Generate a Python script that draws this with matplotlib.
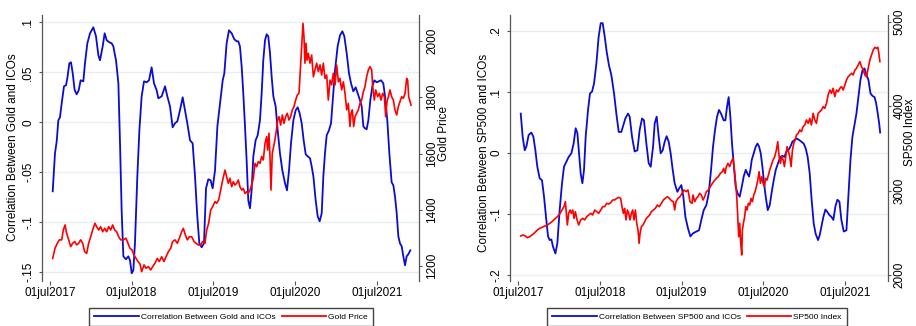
import numpy as np
import pandas as pd
import matplotlib
matplotlib.use('Agg')
import matplotlib.pyplot as plt
from matplotlib.lines import Line2D

plt.rcParams['font.family'] = ['Liberation Sans', 'DejaVu Sans']

# ---------------- data (x = years since 01jul2017) ----------------
gold_corr_t = [0.033, 0.061, 0.082, 0.102, 0.122, 0.143, 0.171, 0.196, 0.212, 0.237, 0.257, 0.278,
               0.302, 0.327, 0.351, 0.375, 0.408, 0.428, 0.457, 0.490, 0.530, 0.563, 0.592, 0.612,
               0.645, 0.669, 0.694, 0.726, 0.755, 0.775, 0.808, 0.837, 0.857, 0.877, 0.898, 0.930,
               0.959, 0.979, 1.000, 1.020, 1.040, 1.069, 1.094, 1.122, 1.151, 1.183, 1.212, 1.244,
               1.273, 1.306, 1.326, 1.367, 1.408, 1.436, 1.469, 1.501, 1.530, 1.559, 1.591, 1.624,
               1.652, 1.681, 1.714, 1.746, 1.775, 1.803, 1.828, 1.856, 1.885, 1.910, 1.938, 1.966,
               1.991, 2.020, 2.049, 2.081, 2.114, 2.134, 2.162, 2.191, 2.224, 2.256, 2.285, 2.305,
               2.325, 2.346, 2.366, 2.387, 2.407, 2.427, 2.448, 2.468, 2.489, 2.517, 2.542, 2.570,
               2.591, 2.611, 2.632, 2.652, 2.672, 2.693, 2.713, 2.734, 2.762, 2.787, 2.815, 2.844,
               2.877, 2.901, 2.926, 2.950, 2.979, 3.007, 3.032, 3.056, 3.081, 3.105, 3.130, 3.154,
               3.183, 3.203, 3.224, 3.252, 3.277, 3.301, 3.326, 3.346, 3.366, 3.387, 3.415, 3.440,
               3.468, 3.489, 3.521, 3.550, 3.579, 3.603, 3.632, 3.660, 3.685, 3.713, 3.742, 3.766,
               3.795, 3.815, 3.836, 3.856, 3.876, 3.897, 3.921, 3.946, 3.970, 3.999, 4.027, 4.052,
               4.080, 4.101, 4.129, 4.154, 4.182, 4.203, 4.223, 4.244, 4.264, 4.284, 4.305, 4.325,
               4.346, 4.366, 4.386, 4.411]
gold_corr = [-0.069, -0.031, -0.019, 0.002, 0.005, 0.019, 0.036, 0.037, 0.044, 0.059, 0.060, 0.049,
             0.032, 0.028, 0.032, 0.042, 0.041, 0.059, 0.079, 0.089, 0.095, 0.086, 0.067, 0.062,
             0.076, 0.089, 0.082, 0.080, 0.079, 0.076, 0.062, 0.039, -0.021, -0.088, -0.134, -0.137,
             -0.134, -0.138, -0.151, -0.148, -0.121, -0.054, -0.008, 0.026, 0.041, 0.040, 0.042, 0.055,
             0.039, 0.032, 0.024, 0.026, 0.036, 0.026, 0.016, -0.005, -0.001, 0.001, 0.012, 0.025,
             0.012, -0.001, -0.018, -0.021, -0.054, -0.094, -0.121, -0.125, -0.121, -0.066, -0.057, -0.058,
             -0.066, -0.048, -0.004, 0.019, 0.042, 0.049, 0.079, 0.092, 0.089, 0.083, 0.081, 0.081,
             0.076, 0.056, 0.029, -0.004, -0.038, -0.078, -0.086, -0.068, -0.034, -0.018, -0.013, 0.002,
             0.029, 0.062, 0.082, 0.088, 0.086, 0.069, 0.046, 0.026, 0.016, -0.008, -0.031, -0.048,
             -0.061, -0.068, -0.048, -0.021, 0.002, 0.012, 0.015, 0.009, -0.001, -0.018, -0.032, -0.034,
             -0.036, -0.044, -0.054, -0.078, -0.094, -0.099, -0.091, -0.054, -0.031, -0.013, -0.008, -0.001,
             0.029, 0.052, 0.076, 0.087, 0.091, 0.086, 0.069, 0.049, 0.039, 0.031, 0.035, 0.029,
             0.022, 0.016, -0.004, -0.006, -0.007, 0.002, 0.022, 0.036, 0.042, 0.040, 0.041, 0.042,
             0.039, 0.026, 0.002, -0.031, -0.060, -0.063, -0.074, -0.091, -0.114, -0.121, -0.124, -0.134,
             -0.143, -0.134, -0.132, -0.128]

gold_price_t = [0.033, 0.061, 0.090, 0.114, 0.143, 0.163, 0.184, 0.204, 0.229, 0.253, 0.278, 0.302,
                0.327, 0.351, 0.375, 0.400, 0.424, 0.449, 0.473, 0.498, 0.522, 0.551, 0.571, 0.596,
                0.620, 0.645, 0.669, 0.694, 0.718, 0.743, 0.767, 0.792, 0.816, 0.841, 0.865, 0.898,
                0.930, 0.955, 0.979, 1.004, 1.028, 1.053, 1.077, 1.102, 1.122, 1.151, 1.175, 1.204,
                1.232, 1.257, 1.285, 1.314, 1.338, 1.367, 1.395, 1.420, 1.449, 1.477, 1.501, 1.530,
                1.559, 1.583, 1.612, 1.632, 1.657, 1.681, 1.706, 1.734, 1.763, 1.787, 1.816, 1.844,
                1.869, 1.897, 1.918, 1.942, 1.967, 1.991, 2.020, 2.040, 2.065, 2.089, 2.114, 2.142,
                2.162, 2.183, 2.203, 2.224, 2.244, 2.264, 2.285, 2.305, 2.325, 2.346, 2.366, 2.387,
                2.407, 2.427, 2.448, 2.468, 2.489, 2.509, 2.530, 2.550, 2.570, 2.591, 2.611, 2.632,
                2.652, 2.664, 2.680, 2.693, 2.705, 2.721, 2.746, 2.766, 2.787, 2.803, 2.823, 2.844,
                2.864, 2.884, 2.905, 2.925, 2.946, 2.966, 2.987, 3.007, 3.027, 3.048, 3.064, 3.081,
                3.097, 3.109, 3.121, 3.134, 3.146, 3.162, 3.183, 3.203, 3.224, 3.244, 3.264, 3.285,
                3.305, 3.326, 3.346, 3.366, 3.387, 3.407, 3.428, 3.448, 3.468, 3.489, 3.509, 3.530,
                3.550, 3.570, 3.591, 3.611, 3.632, 3.652, 3.672, 3.685, 3.701, 3.717, 3.734, 3.754,
                3.774, 3.795, 3.815, 3.836, 3.856, 3.876, 3.897, 3.917, 3.938, 3.950, 3.970, 3.987,
                4.011, 4.032, 4.052, 4.072, 4.093, 4.109, 4.125, 4.142, 4.162, 4.182, 4.203, 4.223,
                4.244, 4.264, 4.284, 4.305, 4.325, 4.346, 4.366, 4.378, 4.391, 4.407, 4.419]
gold_price = [1227, 1263, 1281, 1293, 1293, 1328, 1346, 1316, 1293, 1269, 1281, 1287,
              1275, 1281, 1293, 1281, 1251, 1245, 1281, 1304, 1328, 1352, 1340, 1328,
              1340, 1322, 1334, 1322, 1340, 1328, 1346, 1328, 1322, 1304, 1293, 1293,
              1299, 1281, 1263, 1257, 1239, 1227, 1216, 1207, 1180, 1204, 1192, 1198,
              1186, 1198, 1210, 1227, 1216, 1233, 1216, 1233, 1251, 1263, 1287, 1293,
              1281, 1299, 1322, 1334, 1310, 1293, 1304, 1304, 1287, 1281, 1275, 1275,
              1287, 1281, 1328, 1352, 1399, 1411, 1429, 1423, 1435, 1470, 1506, 1541,
              1518, 1494, 1512, 1482, 1500, 1488, 1494, 1506, 1482, 1470, 1476, 1458,
              1464, 1458, 1470, 1488, 1512, 1565, 1553, 1571, 1565, 1589, 1577, 1636,
              1660, 1612, 1672, 1589, 1470, 1601, 1636, 1672, 1719, 1731, 1701, 1737,
              1707, 1731, 1743, 1719, 1731, 1755, 1767, 1790, 1808, 1814, 1897, 1980,
              2063, 2015, 1921, 1992, 1932, 1956, 1921, 1950, 1873, 1897, 1921, 1891,
              1915, 1879, 1921, 1867, 1879, 1790, 1861, 1844, 1885, 1844, 1915, 1855,
              1867, 1826, 1855, 1814, 1755, 1778, 1696, 1743, 1755, 1696, 1731, 1743,
              1755, 1778, 1790, 1820, 1838, 1873, 1897, 1909, 1897, 1838, 1790, 1826,
              1802, 1814, 1790, 1814, 1802, 1731, 1784, 1802, 1826, 1802, 1790, 1755,
              1737, 1767, 1784, 1802, 1796, 1814, 1867, 1861, 1802, 1784, 1772]

sp_corr_t = [0.033, 0.057, 0.082, 0.102, 0.130, 0.163, 0.188, 0.212, 0.236, 0.265, 0.293, 0.318,
             0.342, 0.367, 0.387, 0.408, 0.428, 0.457, 0.481, 0.509, 0.538, 0.562, 0.591, 0.619,
             0.652, 0.680, 0.705, 0.726, 0.746, 0.766, 0.787, 0.807, 0.827, 0.856, 0.880, 0.905,
             0.929, 0.958, 0.986, 1.011, 1.035, 1.060, 1.084, 1.112, 1.141, 1.174, 1.202, 1.231,
             1.263, 1.288, 1.312, 1.345, 1.365, 1.394, 1.426, 1.459, 1.487, 1.516, 1.540, 1.569,
             1.597, 1.622, 1.651, 1.671, 1.695, 1.720, 1.744, 1.769, 1.793, 1.817, 1.842, 1.866,
             1.891, 1.915, 1.948, 1.972, 1.997, 2.021, 2.046, 2.078, 2.107, 2.139, 2.180, 2.213,
             2.241, 2.270, 2.302, 2.331, 2.360, 2.384, 2.408, 2.433, 2.457, 2.482, 2.514, 2.535,
             2.555, 2.575, 2.596, 2.616, 2.637, 2.661, 2.686, 2.710, 2.735, 2.759, 2.784, 2.804,
             2.824, 2.841, 2.857, 2.882, 2.906, 2.927, 2.947, 2.967, 2.988, 3.008, 3.028, 3.053,
             3.077, 3.102, 3.126, 3.151, 3.179, 3.207, 3.232, 3.256, 3.281, 3.305, 3.330, 3.354,
             3.382, 3.411, 3.435, 3.464, 3.492, 3.517, 3.541, 3.566, 3.590, 3.615, 3.639, 3.668,
             3.688, 3.709, 3.733, 3.758, 3.782, 3.806, 3.831, 3.855, 3.880, 3.904, 3.929, 3.953,
             3.982, 4.015, 4.039, 4.064, 4.088, 4.113, 4.137, 4.162, 4.186, 4.211, 4.235, 4.260,
             4.284, 4.309, 4.333, 4.358, 4.378, 4.398, 4.415, 4.427]
sp_corr = [0.064, 0.026, 0.004, 0.010, 0.029, 0.033, 0.026, 0.004, -0.023, -0.042, -0.045, -0.072,
           -0.105, -0.137, -0.143, -0.142, -0.154, -0.165, -0.148, -0.094, -0.050, -0.023, -0.015, -0.007,
           -0.001, 0.015, 0.040, 0.032, -0.001, -0.034, -0.050, -0.028, 0.026, 0.070, 0.097, 0.100,
           0.113, 0.146, 0.190, 0.212, 0.212, 0.190, 0.165, 0.143, 0.127, 0.097, 0.064, 0.034,
           0.034, 0.045, 0.056, 0.064, 0.059, 0.026, 0.002, 0.004, 0.037, 0.056, 0.053, 0.015,
           -0.017, -0.023, 0.010, 0.048, 0.059, 0.026, -0.001, 0.004, 0.018, 0.027, 0.018, -0.001,
           -0.028, -0.050, -0.064, -0.058, -0.053, -0.072, -0.105, -0.124, -0.137, -0.132, -0.129, -0.127,
           -0.110, -0.094, -0.086, -0.067, -0.028, 0.010, 0.037, 0.059, 0.070, 0.064, 0.053, 0.053,
           0.075, 0.091, 0.059, 0.015, -0.018, -0.056, -0.067, -0.072, -0.056, -0.039, -0.028, -0.034,
           -0.039, -0.028, -0.012, -0.001, 0.010, 0.015, 0.010, -0.001, -0.023, -0.050, -0.072, -0.094,
           -0.086, -0.064, -0.045, -0.028, -0.017, -0.007, -0.005, -0.007, 0.002, 0.004, 0.010, 0.018,
           0.021, 0.023, 0.021, 0.018, 0.015, 0.007, -0.007, -0.034, -0.078, -0.116, -0.133, -0.143,
           -0.135, -0.121, -0.105, -0.093, -0.097, -0.102, -0.105, -0.110, -0.088, -0.077, -0.080, -0.110,
           -0.129, -0.127, -0.072, -0.012, 0.026, 0.045, 0.064, 0.092, 0.119, 0.135, 0.138, 0.127,
           0.119, 0.097, 0.093, 0.091, 0.081, 0.064, 0.048, 0.033]

sp_index_t = [0.033, 0.061, 0.090, 0.114, 0.143, 0.171, 0.204, 0.236, 0.265, 0.293, 0.326, 0.359,
              0.387, 0.416, 0.448, 0.481, 0.509, 0.538, 0.562, 0.579, 0.591, 0.603, 0.619, 0.636,
              0.652, 0.669, 0.685, 0.701, 0.722, 0.742, 0.766, 0.791, 0.815, 0.840, 0.864, 0.889,
              0.913, 0.938, 0.962, 0.987, 1.011, 1.036, 1.060, 1.084, 1.109, 1.133, 1.158, 1.182,
              1.206, 1.231, 1.255, 1.271, 1.288, 1.304, 1.320, 1.337, 1.353, 1.369, 1.386, 1.402,
              1.418, 1.435, 1.451, 1.467, 1.480, 1.492, 1.508, 1.528, 1.549, 1.569, 1.589, 1.610,
              1.630, 1.654, 1.679, 1.703, 1.728, 1.752, 1.777, 1.801, 1.826, 1.850, 1.875, 1.899,
              1.915, 1.931, 1.956, 1.980, 2.005, 2.029, 2.054, 2.078, 2.102, 2.127, 2.139, 2.160,
              2.180, 2.200, 2.221, 2.241, 2.262, 2.282, 2.302, 2.327, 2.351, 2.376, 2.400, 2.425,
              2.449, 2.474, 2.498, 2.514, 2.531, 2.547, 2.567, 2.588, 2.608, 2.628, 2.645, 2.661,
              2.674, 2.686, 2.698, 2.710, 2.723, 2.735, 2.743, 2.755, 2.771, 2.784, 2.800, 2.816,
              2.833, 2.849, 2.865, 2.882, 2.898, 2.914, 2.931, 2.947, 2.963, 2.980, 2.996, 3.012,
              3.028, 3.045, 3.061, 3.077, 3.098, 3.118, 3.138, 3.159, 3.175, 3.192, 3.208, 3.224,
              3.241, 3.257, 3.273, 3.289, 3.306, 3.322, 3.338, 3.355, 3.371, 3.387, 3.404, 3.424,
              3.445, 3.465, 3.485, 3.506, 3.526, 3.547, 3.567, 3.587, 3.608, 3.628, 3.648, 3.669,
              3.689, 3.710, 3.730, 3.750, 3.771, 3.791, 3.812, 3.832, 3.852, 3.873, 3.893, 3.914,
              3.934, 3.955, 3.975, 3.995, 4.016, 4.036, 4.057, 4.077, 4.097, 4.118, 4.138, 4.158,
              4.179, 4.199, 4.220, 4.240, 4.260, 4.281, 4.301, 4.322, 4.342, 4.363, 4.383, 4.399,
              4.411, 4.424]
sp_index = [2462, 2474, 2462, 2442, 2454, 2474, 2501, 2533, 2553, 2565, 2580, 2592,
            2612, 2632, 2663, 2691, 2723, 2770, 2810, 2869, 2731, 2592, 2731, 2770,
            2731, 2770, 2671, 2750, 2652, 2592, 2652, 2671, 2652, 2691, 2711, 2731,
            2711, 2770, 2750, 2731, 2770, 2810, 2810, 2849, 2841, 2857, 2889, 2889,
            2908, 2920, 2908, 2810, 2731, 2790, 2652, 2770, 2731, 2652, 2731, 2770,
            2652, 2770, 2612, 2533, 2375, 2494, 2573, 2592, 2632, 2671, 2691, 2711,
            2750, 2770, 2790, 2829, 2810, 2849, 2889, 2908, 2928, 2908, 2881, 2869,
            2770, 2869, 2908, 2928, 2968, 3007, 2987, 3007, 2869, 2849, 2948, 2869,
            2908, 2928, 2968, 2948, 2889, 2928, 2987, 3007, 3047, 3086, 3118, 3145,
            3165, 3205, 3224, 3264, 3205, 3284, 3323, 3284, 3343, 3382, 3244, 3086,
            2928, 2691, 2454, 2612, 2375, 2237, 2533, 2612, 2691, 2810, 2770, 2849,
            2829, 2908, 2869, 2948, 2987, 3047, 3125, 3224, 3086, 3165, 3086, 3047,
            3145, 3125, 3185, 3244, 3303, 3363, 3402, 3481, 3580, 3402, 3323, 3402,
            3363, 3284, 3402, 3521, 3461, 3402, 3284, 3481, 3560, 3600, 3659, 3679,
            3718, 3698, 3758, 3777, 3837, 3797, 3856, 3777, 3916, 3837, 3797, 3916,
            3935, 3955, 3995, 3975, 4034, 4133, 4192, 4153, 4212, 4113, 4192, 4172,
            4212, 4232, 4192, 4251, 4311, 4350, 4370, 4390, 4370, 4429, 4449, 4488,
            4528, 4469, 4429, 4370, 4350, 4449, 4547, 4607, 4666, 4698, 4686, 4698,
            4627, 4528]

tick_dates = ['2017-07-01', '2018-07-01', '2019-07-01', '2020-07-01', '2021-07-01']
tick_labels = ['01jul2017', '01jul2018', '01jul2019', '01jul2020', '01jul2021']

gold_ticks = [1200, 1400, 1600, 1800, 2000]
gold_corr_ticks = [-0.15, -0.1, -0.05, 0, 0.05, 0.1]
gold_corr_labels = ['-.15', '-.1', '-.05', '0', '.05', '.1']
sp_ticks = [2000, 3000, 4000, 5000]
sp_corr_ticks = [-0.2, -0.1, 0, 0.1, 0.2]
sp_corr_labels = ['-.2', '-.1', '0', '.1', '.2']

BASE = pd.Timestamp('2017-07-01')


def to_dates(t):
    return BASE + pd.to_timedelta(np.asarray(t, dtype=float) * 365.25, unit='D')


BLUE = '#0b0bd6'
RED = '#ff0000'
GRID = '#e6eff2'
AX = '#555555'
FS = 8.5
W, H = 916, 326

fig = plt.figure(figsize=(W / 100, H / 100), dpi=100)


def panel(x0, x1, t_c, v_c, t_p, v_p, ylim_l, ylim_r, lt, ll, rt, ylab_l, ylab_r,
          lab_l_pos, lab_r_pos, leg_x, leg_labels, xlim_t, rpad):
    top, bot = 15, 281
    ax = fig.add_axes([x0 / W, 1 - bot / H, (x1 - x0) / W, (bot - top) / H])
    ax2 = ax.twinx()
    ax.plot(to_dates(t_c), v_c, color=BLUE, lw=1.3, solid_joinstyle='round')
    ax2.plot(to_dates(t_p), v_p, color=RED, lw=1.2, solid_joinstyle='round')
    ax.set_xlim(to_dates(xlim_t))
    ax.set_ylim(*ylim_l)
    ax2.set_ylim(*ylim_r)
    ax.set_yticks(lt)
    ax.set_yticklabels(ll)
    ax2.set_yticks(rt)
    ax2.set_yticklabels([str(v) for v in rt])
    ax.set_xticks(pd.to_datetime(tick_dates))
    ax.set_xticklabels(tick_labels)
    ax.grid(axis='y', color=GRID, lw=1.0)
    ax.grid(axis='x', visible=False)
    ax.set_axisbelow(True)
    for a in (ax, ax2):
        a.spines['top'].set_visible(False)
        a.spines['bottom'].set_visible(False)
        for s in ('left', 'right'):
            a.spines[s].set_color(AX)
            a.spines[s].set_linewidth(0.9)
    ax.spines['right'].set_visible(False)
    ax2.spines['left'].set_visible(False)
    ax.tick_params(axis='x', length=3, width=0.8, color=AX, labelsize=FS, pad=1.5)
    ax.tick_params(axis='y', length=2.5, width=0.8, color=AX, labelsize=FS, pad=3,
                   labelrotation=90)
    ax2.tick_params(axis='y', length=2.5, width=0.8, color=AX, labelsize=FS, pad=rpad,
                    labelrotation=90)
    for lab in ax.get_yticklabels() + ax2.get_yticklabels():
        lab.set_va('center')
    ax.set_ylabel(ylab_l, fontsize=FS)
    ax2.set_ylabel(ylab_r, fontsize=FS)
    ax.yaxis.set_label_coords(*lab_l_pos)
    ax2.yaxis.set_label_coords(*lab_r_pos)
    handles = [Line2D([], [], color=BLUE, lw=1.3), Line2D([], [], color=RED, lw=1.3)]
    fig.legend(handles, leg_labels, loc='upper left',
               bbox_to_anchor=(leg_x / W, 1 - 307.7 / H), bbox_transform=fig.transFigure,
               ncol=2, fontsize=6, handlelength=5.3, handletextpad=0.25,
               columnspacing=0.75, borderpad=0.65, borderaxespad=0,
               fancybox=False, framealpha=1, edgecolor='#444444')
    return ax, ax2


panel(42, 419, gold_corr_t, gold_corr, gold_price_t, gold_price,
      (-0.1587, 0.1073), (1146.8, 2092.4), gold_corr_ticks, gold_corr_labels, gold_ticks,
      'Correlation Between Gold and ICOs', 'Gold Price',
      (-0.061, 0.502), (1.05, 0.556), 89,
      ['Correlation Between Gold and ICOs', 'Gold Price'], [-0.098, 4.517], 2.5)

panel(510, 888, sp_corr_t, sp_corr, sp_index_t, sp_index,
      (-0.21, 0.2254), (1928.6, 5081), sp_corr_ticks, sp_corr_labels, sp_ticks,
      'Correlation Between SP500 and ICOs', 'SP500 Index',
      (-0.053, 0.481), (1.042, 0.56), 547,
      ['Correlation Between SP500 and ICOs', 'SP500 Index'], [-0.098, 4.523], 1.5)

fig.savefig('out.png', dpi=100, facecolor='white')
